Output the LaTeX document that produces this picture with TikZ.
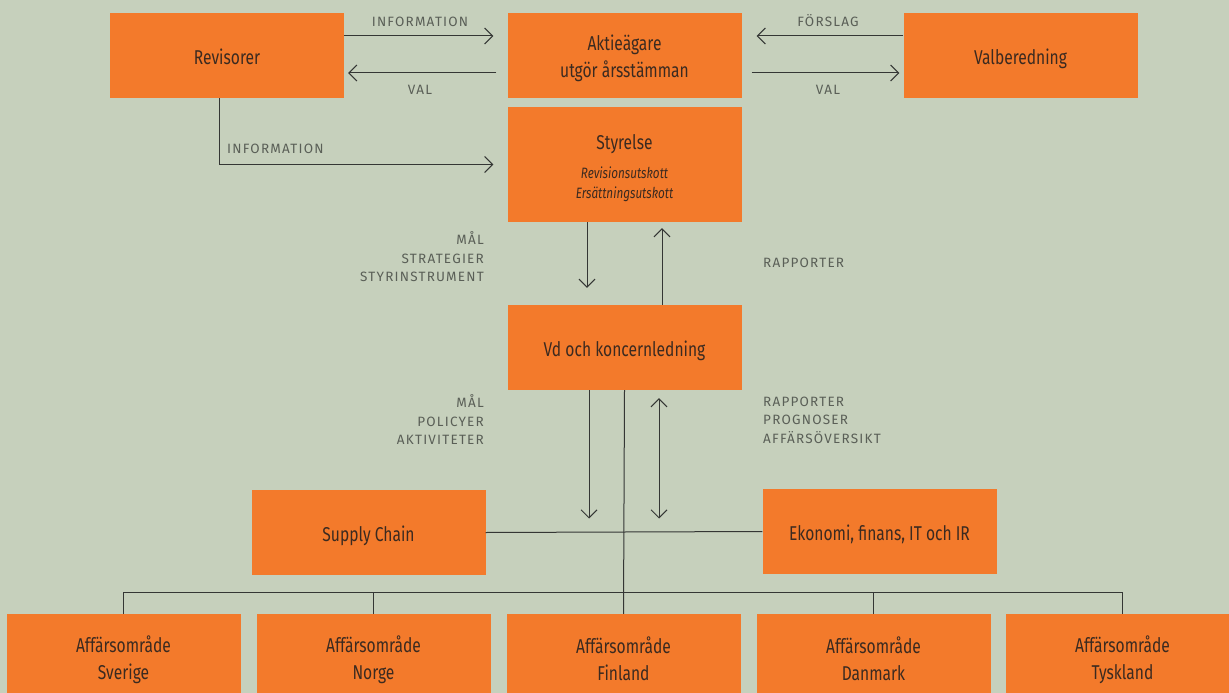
\documentclass[tikz,border=0pt]{standalone}
\usepackage{fontspec}
\setmainfont{Fira Sans}[FakeStretch=0.78]
\newfontfamily\capsfont{Fira Sans}[LetterSpace=9]
\usetikzlibrary{arrows.meta, positioning}
\definecolor{bgcol}{HTML}{C6D0BC}
\definecolor{boxcol}{HTML}{F37A2B}
\definecolor{inkcol}{HTML}{3B2A20}
\definecolor{labcol}{HTML}{5A5F57}
\definecolor{linecol}{HTML}{343634}
\tikzstyle{box} = [rectangle, fill=boxcol, text=inkcol, minimum width=234pt, minimum height=85pt, inner sep=0pt, align=center, font=\fontsize{20}{27}\selectfont]
\tikzstyle{line} = [draw, linecol, line width=1pt]
\tikzstyle{arr} = [-{Straight Barb[length=8pt, width=16pt]}]
\tikzstyle{txt} = [text=labcol, inner sep=0pt, font=\capsfont\fontsize{13.5}{18.5}\selectfont]
\newcommand{\utskott}[1]{\fontsize{15}{18}\selectfont\itshape #1}
\newcommand{\bstrut}{\rule[-3pt]{0pt}{25pt}}

\begin{document}
\begin{tikzpicture}[x=1pt, y=-1pt]
			\fill [bgcol] (0,0) rectangle (1229,693);
			\useasboundingbox (0,0) rectangle (1229,693);
			\clip (0,0) rectangle (1229,693);

			\node [box] (rev) at (227, 55.5) {Revisorer\bstrut};
			\node [box] (akt) at (624.5, 55.5) {Aktieägare\bstrut\\utgör årsstämman\bstrut};
			\node [box] (val) at (1020.5, 55.5) {Valberedning\bstrut};
			\node [box, minimum height=115pt] (sty) at (624.5, 164.5) {\rule{0pt}{22pt}Styrelse\\[2pt]\utskott{Revisionsutskott}\\[-7pt]\utskott{Ersättningsutskott}};
			\node [box] (vd) at (624.5, 347.5) {Vd och koncernledning\bstrut};
			\node [box] (sup) at (368.5, 532.5) {Supply Chain\bstrut};
			\node [box] (eko) at (879.5, 531.5) {Ekonomi, finans, IT och IR\bstrut};
			\node [box, minimum height=86pt] (swe) at (123.5, 657) {Affärsområde\bstrut\\Sverige\bstrut};
			\node [box, minimum height=86pt] (nor) at (373.5, 657) {Affärsområde\bstrut\\Norge\bstrut};
			\node [box, minimum height=86pt] (fin) at (623.5, 657) {Affärsområde\bstrut\\Finland\bstrut};
			\node [box, minimum height=86pt] (den) at (873.5, 657) {Affärsområde\bstrut\\Danmark\bstrut};
			\node [box, minimum height=86pt] (ger) at (1122.5, 657) {Affärsområde\bstrut\\Tyskland\bstrut};

			\node [txt, anchor=base] (info1) at (420, 27) {INFORMATION};
			\node [txt, anchor=base] (val1) at (420, 94) {VAL};
			\node [txt, anchor=base] (forslag) at (828, 27) {FÖRSLAG};
			\node [txt, anchor=base] (val2) at (828, 94) {VAL};
			\node [txt, anchor=base west] (info2) at (227, 153) {INFORMATION};
			\node [txt, anchor=east, align=right] (mal1) at (484, 257) {MÅL\\STRATEGIER\\STYRINSTRUMENT};
			\node [txt, anchor=west] (rapp1) at (763, 263) {RAPPORTER};
			\node [txt, anchor=east, align=right] (mal2) at (484, 420) {MÅL\\POLICYER\\AKTIVITETER};
			\node [txt, anchor=west, align=left] (rapp2) at (763, 420) {RAPPORTER\\PROGNOSER\\AFFÄRSÖVERSIKT};

			\path [line, arr] ([yshift=19.5pt]rev.east) -- ([yshift=19.5pt, xshift=-14pt]akt.west);
			\path [line, arr] ([yshift=-17.5pt, xshift=-11pt]akt.west) -- ([yshift=-17.5pt, xshift=4pt]rev.east);
			\path [line, arr] ([yshift=19.5pt]val.west) -- ([yshift=19.5pt, xshift=15pt]akt.east);
			\path [line, arr] ([yshift=-17.5pt, xshift=10pt]akt.east) -- ([yshift=-17.5pt, xshift=-4pt]val.west);
			\path [line, arr] ([xshift=-8pt]rev.south) |- ([xshift=-14pt]sty.west);
			\path [line, arr] ([xshift=-37.5pt]sty.south) -- ([xshift=-37.5pt, yshift=17pt]vd.north);
			\path [line, arr] ([xshift=37.5pt]vd.north) -- ([xshift=37.5pt, yshift=-6pt]sty.south);
			\path [line, arr] ([xshift=-35.5pt]vd.south) -- ([xshift=-35.5pt, yshift=14pt]vd.south |- sup.east);
			\path [line, {Straight Barb[length=8pt, width=16pt]}-{Straight Barb[length=8pt, width=16pt]}] ([xshift=34.5pt, yshift=-8pt]vd.south) -- ([xshift=34.5pt, yshift=14pt]vd.south |- sup.east);
			\path [line] (vd.south) -- (fin.north);
			\path [line] (sup.east) -- (eko.west);
			\path [line] (swe.north) -- ++(0,-21) -| (ger.north);
			\path [line] (nor.north) -- ++(0,-21);
			\path [line] (den.north) -- ++(0,-21);
		\end{tikzpicture}
\end{document}
